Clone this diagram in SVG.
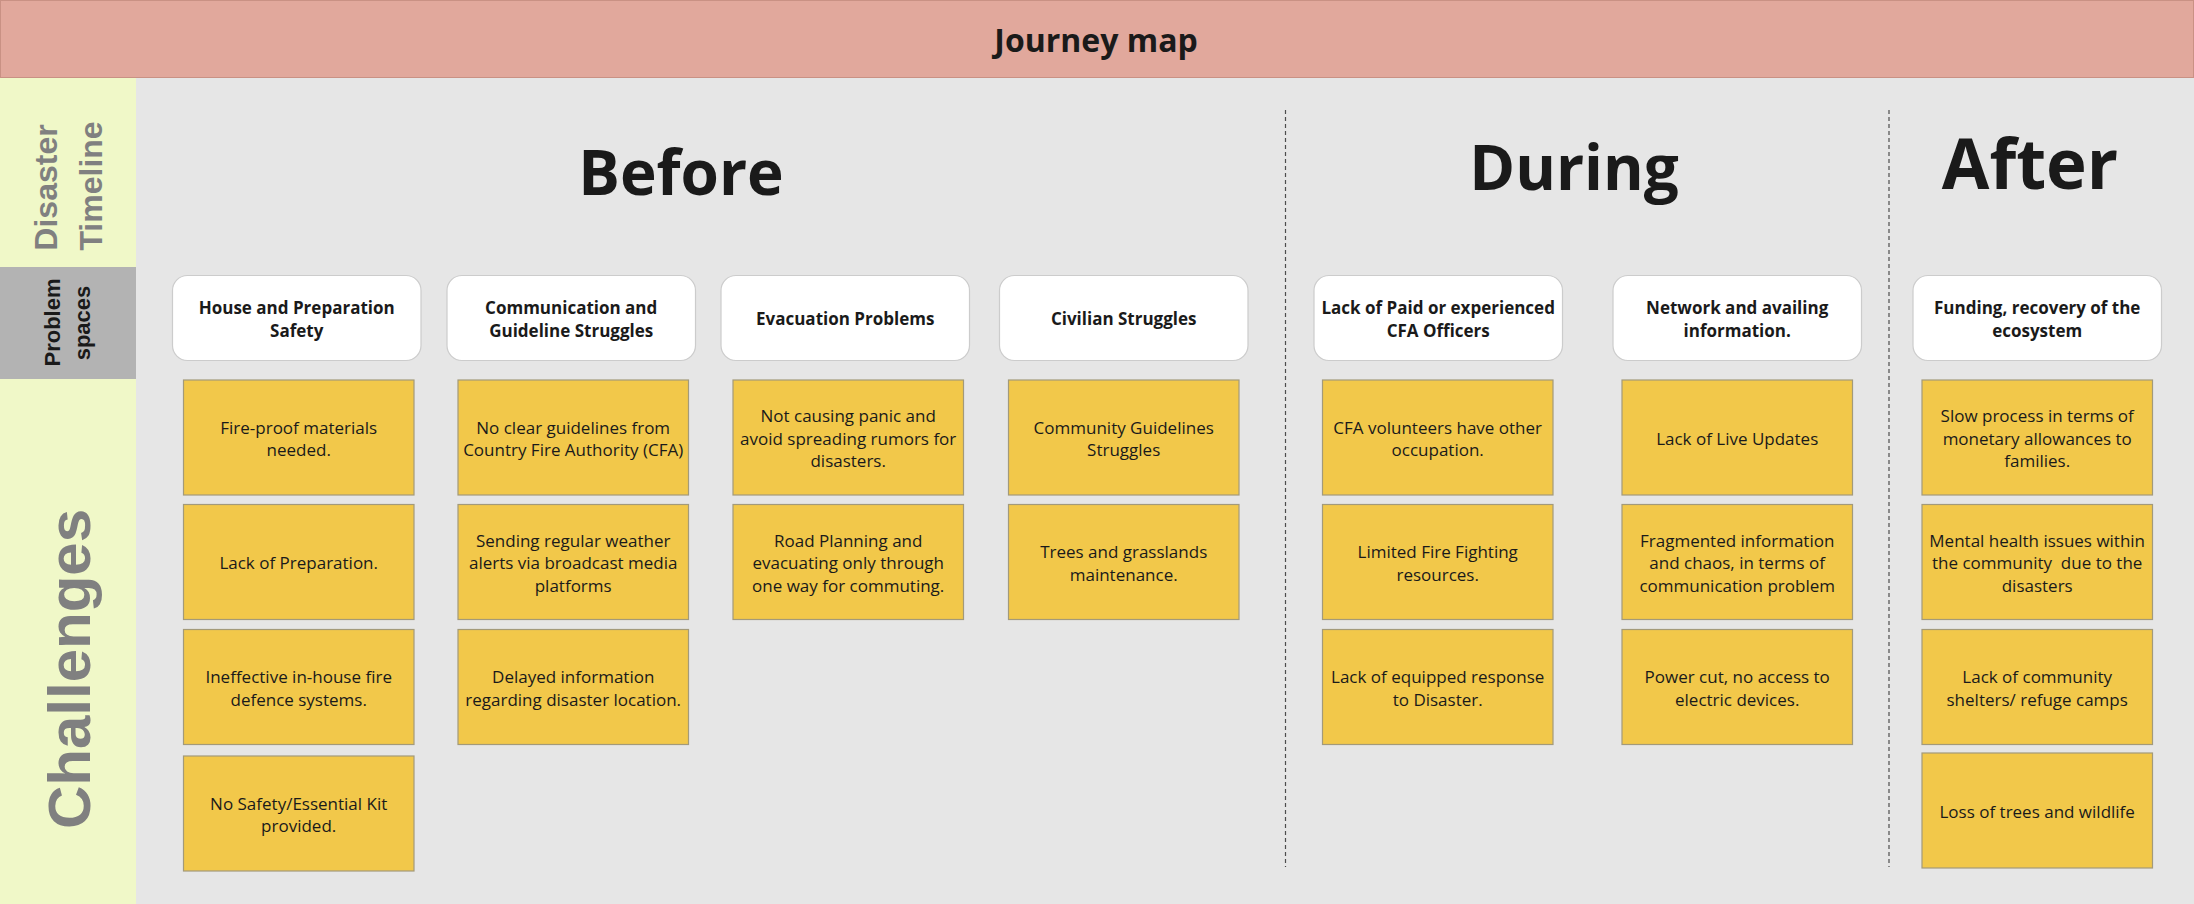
<svg xmlns="http://www.w3.org/2000/svg" width="2194" height="904" viewBox="0 0 2194 904">
<style>
.bg{fill:#e6e6e6}
.side{fill:#f0f8c8}
.ps{fill:#b3b3b3}
.card{fill:#ffffff;stroke:#cccccc;stroke-width:1.2}
.note{fill:#f2c84a;stroke:#a39a7a;stroke-width:1.2}
.ct{font-family:"Open Sans","Liberation Sans",sans-serif;font-weight:700;font-size:17px;fill:#1a1a1a;text-anchor:middle}
.nt{font-family:"Open Sans","Liberation Sans",sans-serif;font-size:17px;fill:#1a1a1a;text-anchor:middle;white-space:pre}
.phase{font-family:"Open Sans","Liberation Sans",sans-serif;font-weight:700;fill:#1a1a1a;text-anchor:middle}
.lab{font-family:"Liberation Sans",Arial,sans-serif;font-weight:700;fill:#808080;text-anchor:middle}
.sep{stroke:#4d4d4d;stroke-width:1.2;stroke-dasharray:4 3;fill:none}
</style>

<g id="background">
<rect class="bg" x="136" y="77" width="2058" height="827"/>
<rect class="side" x="0" y="77" width="136" height="827"/>
<rect class="ps" x="0" y="267" width="136" height="112"/>
</g>

<g id="header">
<rect x="0.5" y="0.5" width="2193" height="77" fill="#e1a89c" stroke="#c99184" stroke-width="1"/>
<text x="1096" y="51.5" class="phase" font-size="32">Journey map</text>
</g>

<g id="row-labels">
<text class="lab" font-size="32" transform="translate(57,187.5) rotate(-90)">Disaster</text>
<text class="lab" font-size="32" transform="translate(101.5,186) rotate(-90)">Timeline</text>
<text class="lab" font-size="22" fill="#1a1a1a" style="fill:#1a1a1a" transform="translate(60,322.5) rotate(-90)">Problem</text>
<text class="lab" font-size="22" style="fill:#1a1a1a" transform="translate(90,323) rotate(-90)">spaces</text>
<text class="lab" font-size="60" transform="translate(89.5,669) rotate(-90)">Challenges</text>
</g>

<g id="phases">
<text class="phase" x="681" y="195" font-size="62">Before</text>
<text class="phase" x="1574" y="190" font-size="62">During</text>
<text class="phase" x="2030" y="189" font-size="69">After</text>
</g>

<g id="connectors">
<line class="sep" x1="1285.5" y1="110" x2="1285.5" y2="867"/>
<line class="sep" x1="1889" y1="110" x2="1889" y2="867"/>
</g>

<!-- Problem space cards -->
<g id="card-house">
<rect class="card" x="172.5" y="275.5" width="248.5" height="85" rx="15"/>
<text class="ct" x="296.7" y="314.1">House and Preparation</text>
<text class="ct" x="296.7" y="336.5">Safety</text>
</g>
<g id="card-communication">
<rect class="card" x="447" y="275.5" width="248.5" height="85" rx="15"/>
<text class="ct" x="571.2" y="314.1">Communication and</text>
<text class="ct" x="571.2" y="336.5">Guideline Struggles</text>
</g>
<g id="card-evacuation">
<rect class="card" x="721" y="275.5" width="248.5" height="85" rx="15"/>
<text class="ct" x="845.2" y="325.3">Evacuation Problems</text>
</g>
<g id="card-civilian">
<rect class="card" x="999.5" y="275.5" width="248.5" height="85" rx="15"/>
<text class="ct" x="1123.7" y="325.3">Civilian Struggles</text>
</g>
<g id="card-cfa">
<rect class="card" x="1314" y="275.5" width="248.5" height="85" rx="15"/>
<text class="ct" x="1438.2" y="314.1">Lack of Paid or experienced</text>
<text class="ct" x="1438.2" y="336.5">CFA Officers</text>
</g>
<g id="card-network">
<rect class="card" x="1613" y="275.5" width="248.5" height="85" rx="15"/>
<text class="ct" x="1737.2" y="314.1">Network and availing</text>
<text class="ct" x="1737.2" y="336.5">information.</text>
</g>
<g id="card-funding">
<rect class="card" x="1913" y="275.5" width="248.5" height="85" rx="15"/>
<text class="ct" x="2037.2" y="314.1">Funding, recovery of the</text>
<text class="ct" x="2037.2" y="336.5">ecosystem</text>
</g>

<!-- Column 1 stickies -->
<g id="note-fireproof">
<rect class="note" x="183.5" y="380" width="230.5" height="115"/>
<text class="nt" x="298.7" y="433.6">Fire-proof materials</text>
<text class="nt" x="298.7" y="456">needed.</text>
</g>
<g id="note-preparation">
<rect class="note" x="183.5" y="504.5" width="230.5" height="115"/>
<text class="nt" x="298.7" y="569.3">Lack of Preparation.</text>
</g>
<g id="note-defence">
<rect class="note" x="183.5" y="629.5" width="230.5" height="115"/>
<text class="nt" x="298.7" y="683.1">Ineffective in-house fire</text>
<text class="nt" x="298.7" y="705.5">defence systems.</text>
</g>
<g id="note-kit">
<rect class="note" x="183.5" y="756" width="230.5" height="115"/>
<text class="nt" x="298.7" y="809.6">No Safety/Essential Kit</text>
<text class="nt" x="298.7" y="832">provided.</text>
</g>

<!-- Column 2 stickies -->
<g id="note-guidelines">
<rect class="note" x="458" y="380" width="230.5" height="115"/>
<text class="nt" x="573.2" y="433.6">No clear guidelines from</text>
<text class="nt" x="573.2" y="456">Country Fire Authority (CFA)</text>
</g>
<g id="note-alerts">
<rect class="note" x="458" y="504.5" width="230.5" height="115"/>
<text class="nt" x="573.2" y="546.9">Sending regular weather</text>
<text class="nt" x="573.2" y="569.3">alerts via broadcast media</text>
<text class="nt" x="573.2" y="591.7">platforms</text>
</g>
<g id="note-delayed">
<rect class="note" x="458" y="629.5" width="230.5" height="115"/>
<text class="nt" x="573.2" y="683.1">Delayed information</text>
<text class="nt" x="573.2" y="705.5">regarding disaster location.</text>
</g>

<!-- Column 3 stickies -->
<g id="note-panic">
<rect class="note" x="733" y="380" width="230.5" height="115"/>
<text class="nt" x="848.2" y="422.4">Not causing panic and</text>
<text class="nt" x="848.2" y="444.8">avoid spreading rumors for</text>
<text class="nt" x="848.2" y="467.2">disasters.</text>
</g>
<g id="note-road">
<rect class="note" x="733" y="504.5" width="230.5" height="115"/>
<text class="nt" x="848.2" y="546.9">Road Planning and</text>
<text class="nt" x="848.2" y="569.3">evacuating only through</text>
<text class="nt" x="848.2" y="591.7">one way for commuting.</text>
</g>

<!-- Column 4 stickies -->
<g id="note-community-guidelines">
<rect class="note" x="1008.5" y="380" width="230.5" height="115"/>
<text class="nt" x="1123.7" y="433.6">Community Guidelines</text>
<text class="nt" x="1123.7" y="456">Struggles</text>
</g>
<g id="note-trees">
<rect class="note" x="1008.5" y="504.5" width="230.5" height="115"/>
<text class="nt" x="1123.7" y="558.1">Trees and grasslands</text>
<text class="nt" x="1123.7" y="580.5">maintenance.</text>
</g>

<!-- Column 5 stickies -->
<g id="note-volunteers">
<rect class="note" x="1322.5" y="380" width="230.5" height="115"/>
<text class="nt" x="1437.7" y="433.6">CFA volunteers have other</text>
<text class="nt" x="1437.7" y="456">occupation.</text>
</g>
<g id="note-resources">
<rect class="note" x="1322.5" y="504.5" width="230.5" height="115"/>
<text class="nt" x="1437.7" y="558.1">Limited Fire Fighting</text>
<text class="nt" x="1437.7" y="580.5">resources.</text>
</g>
<g id="note-equipped">
<rect class="note" x="1322.5" y="629.5" width="230.5" height="115"/>
<text class="nt" x="1437.7" y="683.1">Lack of equipped response</text>
<text class="nt" x="1437.7" y="705.5">to Disaster.</text>
</g>

<!-- Column 6 stickies -->
<g id="note-live-updates">
<rect class="note" x="1622" y="380" width="230.5" height="115"/>
<text class="nt" x="1737.2" y="444.8">Lack of Live Updates</text>
</g>
<g id="note-fragmented">
<rect class="note" x="1622" y="504.5" width="230.5" height="115"/>
<text class="nt" x="1737.2" y="546.9">Fragmented information</text>
<text class="nt" x="1737.2" y="569.3">and chaos, in terms of</text>
<text class="nt" x="1737.2" y="591.7">communication problem</text>
</g>
<g id="note-power">
<rect class="note" x="1622" y="629.5" width="230.5" height="115"/>
<text class="nt" x="1737.2" y="683.1">Power cut, no access to</text>
<text class="nt" x="1737.2" y="705.5">electric devices.</text>
</g>

<!-- Column 7 stickies -->
<g id="note-monetary">
<rect class="note" x="1922" y="380" width="230.5" height="115"/>
<text class="nt" x="2037.2" y="422.4">Slow process in terms of</text>
<text class="nt" x="2037.2" y="444.8">monetary allowances to</text>
<text class="nt" x="2037.2" y="467.2">families.</text>
</g>
<g id="note-mental">
<rect class="note" x="1922" y="504.5" width="230.5" height="115"/>
<text class="nt" x="2037.2" y="546.9">Mental health issues within</text>
<text class="nt" x="2037.2" y="569.3">the community  due to the</text>
<text class="nt" x="2037.2" y="591.7">disasters</text>
</g>
<g id="note-shelters">
<rect class="note" x="1922" y="629.5" width="230.5" height="115"/>
<text class="nt" x="2037.2" y="683.1">Lack of community</text>
<text class="nt" x="2037.2" y="705.5">shelters/ refuge camps</text>
</g>
<g id="note-wildlife">
<rect class="note" x="1922" y="753" width="230.5" height="115"/>
<text class="nt" x="2037.2" y="817.8">Loss of trees and wildlife</text>
</g>
</svg>
